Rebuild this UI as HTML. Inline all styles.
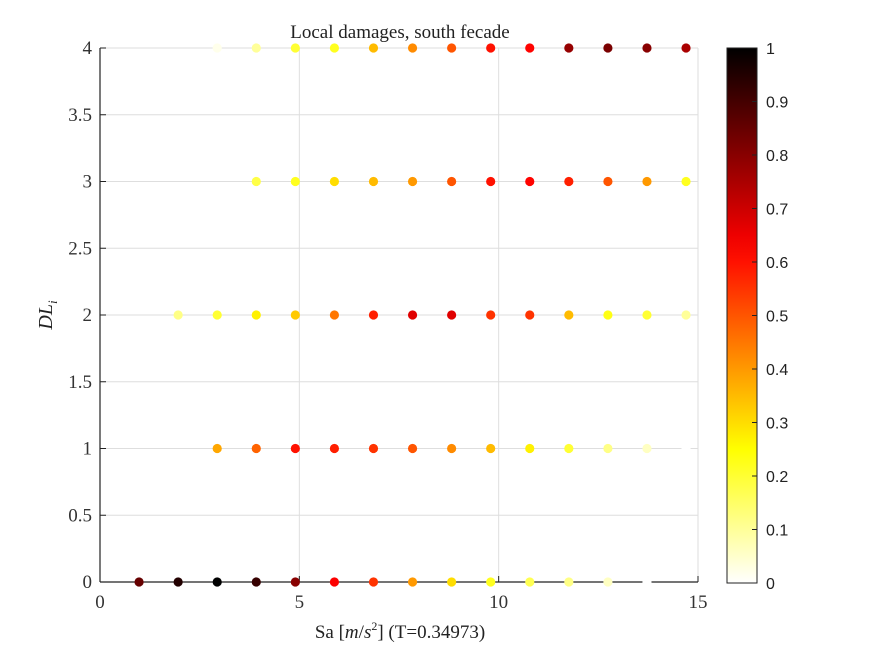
<!DOCTYPE html>
<html><head><meta charset="utf-8"><style>
body{margin:0;background:#fff;}
svg{display:block;}
.ser{font-family:"Liberation Serif",serif;}
.san{font-family:"Liberation Sans",sans-serif;}
</style></head><body>
<svg id="chart" width="875" height="656" viewBox="0 0 875 656">
<defs>
<linearGradient id="cbg" x1="0" y1="1" x2="0" y2="0"></linearGradient>
</defs>
<g id="grid"></g>
<g id="axes"></g>
<g id="points"></g>
<g id="cbar"></g>
<text class="ser" x="400" y="38" font-size="19" text-anchor="middle" fill="#222">Local damages, south fecade</text>
<text class="ser" x="400" y="638" font-size="19" text-anchor="middle" fill="#222">Sa [<tspan font-style="italic">m</tspan>/<tspan font-style="italic">s</tspan><tspan font-size="12" dy="-8">2</tspan><tspan dy="8">] (T=0.34973)</tspan></text>
<text class="ser" transform="translate(52,315) rotate(-90)" font-size="20" text-anchor="middle" fill="#222" font-style="italic">DL<tspan font-size="13" dy="5">i</tspan></text>
</svg>
<script>
const sa = [0.98,1.96,2.94,3.92,4.9,5.88,6.86,7.84,8.82,9.8,10.78,11.76,12.74,13.72,14.7];
const levels = [0,1,2,3,4];
const row0 = [0.85,0.95,1.0,0.92,0.8,0.63,0.55,0.4,0.3,0.22,0.17,0.12,0.06,0,null];
const row1 = [null,null,0.38,0.48,0.6,0.58,0.55,0.5,0.42,0.35,0.27,0.2,0.12,0.06,0];
const row2 = [null,0.12,0.2,0.27,0.33,0.45,0.58,0.67,0.67,0.55,0.55,0.35,0.23,0.2,0.1];
const row3 = [null,null,null,0.18,0.22,0.3,0.35,0.4,0.5,0.6,0.62,0.58,0.5,0.4,0.22];
const row4 = [null,null,0.02,0.1,0.2,0.22,0.35,0.42,0.5,0.6,0.62,0.78,0.82,0.8,0.75];
const xTicks = [0,5,10,15];
const yTicks = [0,0.5,1,1.5,2,2.5,3,3.5,4];
const cTicks = [0,0.1,0.2,0.3,0.4,0.5,0.6,0.7,0.8,0.9,1];

const NS="http://www.w3.org/2000/svg";
const X0=100,X1=698,Y0=582,Y1=48;
const xs=v=>X0+(v/15)*(X1-X0);
const ys=v=>Y0-(v/4)*(Y0-Y1);
function hot(v){const t=1-v;const r=Math.min(1,t/0.375),g=Math.max(0,Math.min(1,(t-0.375)/0.375)),b=Math.max(0,Math.min(1,(t-0.75)/0.25));
 return `rgb(${Math.round(r*255)},${Math.round(g*255)},${Math.round(b*255)})`;}
function mk(tag,attrs,parent){const e=document.createElementNS(NS,tag);for(const k in attrs)e.setAttribute(k,attrs[k]);parent.appendChild(e);return e;}
const grid=document.getElementById('grid'),axes=document.getElementById('axes'),pts=document.getElementById('points'),cb=document.getElementById('cbar');
xTicks.forEach(t=>{
 const l=mk('line',{x1:xs(t),x2:xs(t),y1:Y1,y2:Y0,stroke:'#dedede','stroke-width':1},grid);
 
 
 const tk=mk('line',{x1:xs(t),x2:xs(t),y1:Y0,y2:Y0-6,stroke:'#222'},axes);
 
 
 const tx=mk('text',{x:xs(t),y:Y0+26,'font-size':19,'text-anchor':'middle',fill:'#333',class:'ser'},axes);
 tx.textContent=t;
 
 
});
yTicks.forEach(t=>{
 const l=mk('line',{x1:X0,x2:X1,y1:ys(t),y2:ys(t),stroke:'#dedede','stroke-width':1},grid);
 
 
 const tk=mk('line',{x1:X0,x2:X0+6,y1:ys(t),y2:ys(t),stroke:'#222'},axes);
 
 
 const tx=mk('text',{x:X0-8,y:ys(t)+6,'font-size':19,'text-anchor':'end',fill:'#333',class:'ser'},axes);
 tx.textContent=t;
 
 
});
const xa=mk('line',{x1:X0,x2:X1,y1:Y0,y2:Y0,stroke:'#222','stroke-width':1.2},axes);


const ya=mk('line',{x1:X0,x2:X0,y1:Y1,y2:Y0,stroke:'#222','stroke-width':1.2},axes);


const rows=[row0,row1,row2,row3,row4];
rows.forEach((row,ri)=>{row.forEach((v,i)=>{
 if(v===null)return;
 const c=mk('circle',{cx:xs(sa[i]),cy:ys(levels[ri]),r:4.6,fill:hot(v)},pts);
 
 
});});
// colorbar
const grad=document.getElementById('cbg');
for(let i=0;i<=20;i++){const v=i/20;mk('stop',{offset:v,'stop-color':hot(v)},grad);}
const CX=727,CW=30,CY0=583,CY1=48;
const cr=mk('rect',{x:CX,y:CY1,width:CW,height:CY0-CY1,fill:'url(#cbg)',stroke:'#222','stroke-width':1},cb);


cTicks.forEach(t=>{
 const y=CY0-t*(CY0-CY1);
 const tk=mk('line',{x1:CX+CW-5,x2:CX+CW,y1:y,y2:y,stroke:'#222'},cb);
 
 
 const tx=mk('text',{x:CX+CW+9,y:y+6,'font-size':16,fill:'#222',class:'san'},cb);
 tx.textContent=t;
 
 
});
</script>
</body></html>
